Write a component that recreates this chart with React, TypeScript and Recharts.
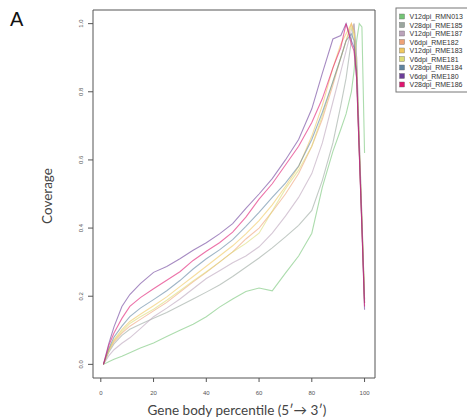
import { LineChart, Line, XAxis, YAxis, ReferenceArea } from 'recharts';

const percentile = [1, 3, 5, 8, 11, 15, 20, 25, 30, 35, 40, 45, 50, 55, 60, 65, 70, 75, 80, 84, 88, 91, 93, 95, 96, 97, 98, 99, 100];

const rmn013 = [0, 0.008, 0.015, 0.024, 0.034, 0.048, 0.063, 0.082, 0.1, 0.118, 0.14, 0.168, 0.192, 0.214, 0.224, 0.216, 0.268, 0.318, 0.385, 0.52, 0.625, 0.69, 0.735, 0.8, 0.86, 0.95, 1.0, 0.99, 0.62];
const rme185 = [0, 0.035, 0.06, 0.085, 0.103, 0.118, 0.135, 0.152, 0.172, 0.192, 0.212, 0.233, 0.258, 0.285, 0.312, 0.342, 0.374, 0.408, 0.452, 0.54, 0.65, 0.76, 0.84, 0.95, 1.0, 0.9, 0.66, 0.43, 0.19];
const rme187 = [0, 0.025, 0.043, 0.062, 0.078, 0.105, 0.14, 0.165, 0.192, 0.222, 0.252, 0.275, 0.298, 0.318, 0.345, 0.385, 0.435, 0.49, 0.56, 0.65, 0.77, 0.86, 0.92, 0.98, 1.0, 0.9, 0.66, 0.43, 0.19];
const rme182 = [0, 0.04, 0.066, 0.092, 0.112, 0.132, 0.157, 0.182, 0.212, 0.242, 0.27, 0.3, 0.33, 0.368, 0.4, 0.448, 0.5, 0.56, 0.64, 0.72, 0.82, 0.9, 0.95, 1.0, 0.98, 0.86, 0.63, 0.41, 0.18];
const rme183 = [0, 0.042, 0.072, 0.102, 0.126, 0.147, 0.172, 0.198, 0.228, 0.258, 0.288, 0.318, 0.348, 0.383, 0.422, 0.468, 0.522, 0.58, 0.67, 0.76, 0.87, 0.94, 0.97, 1.0, 0.97, 0.86, 0.63, 0.41, 0.18];
const rme181 = [0, 0.04, 0.07, 0.096, 0.12, 0.14, 0.162, 0.188, 0.216, 0.245, 0.272, 0.3, 0.33, 0.355, 0.385, 0.45, 0.515, 0.57, 0.64, 0.73, 0.83, 0.9, 0.95, 0.99, 0.97, 0.87, 0.64, 0.42, 0.19];
const rme184 = [0, 0.046, 0.08, 0.112, 0.14, 0.165, 0.19, 0.216, 0.246, 0.28, 0.31, 0.336, 0.366, 0.405, 0.446, 0.49, 0.532, 0.582, 0.66, 0.74, 0.83, 0.9, 0.95, 0.97, 0.95, 0.86, 0.63, 0.41, 0.18];
const rme180 = [0, 0.06, 0.11, 0.17, 0.205, 0.237, 0.27, 0.287, 0.31, 0.335, 0.357, 0.383, 0.413, 0.458, 0.5, 0.545, 0.6, 0.66, 0.75, 0.855, 0.955, 0.965, 1.0, 0.95, 0.93, 0.84, 0.62, 0.4, 0.16];
const rme186 = [0, 0.055, 0.092, 0.135, 0.17, 0.196, 0.222, 0.247, 0.272, 0.305, 0.332, 0.357, 0.388, 0.432, 0.485, 0.53, 0.585, 0.64, 0.71, 0.78, 0.87, 0.93, 1.0, 0.94, 0.92, 0.84, 0.62, 0.4, 0.17];

const sampleNames = ['V12dpi_RMN013', 'V28dpi_RME185', 'V12dpi_RME187', 'V6dpi_RME182', 'V12dpi_RME183', 'V6dpi_RME181', 'V28dpi_RME184', 'V6dpi_RME180', 'V28dpi_RME186'];
const sampleValues = [rmn013, rme185, rme187, rme182, rme183, rme181, rme184, rme180, rme186];
const sampleColors = ['#74c476', '#9aa69e', '#bba3bb', '#eea276', '#f0c85e', '#dcdc74', '#5f84a0', '#6b3d99', '#e0156f'];

const xTicks = [0, 20, 40, 60, 80, 100];
const yTicks = [0, 0.2, 0.4, 0.6, 0.8, 1.0];

const data = percentile.map((p, i) => {
    const row: Record<string, number> = { pct: p };
    sampleNames.forEach((n, k) => { row[n] = sampleValues[k][i]; });
    return row;
});

const X_DOMAIN = [-2.96, 103.96];
const Y_DOMAIN = [-0.04, 1.04];
const tickFont = '"Liberation Sans", Arial, sans-serif';

const XTick = ({ x, payload }: any) => (
    <text x={x} y={395} textAnchor="middle" fontSize={6} fill="#555" fontFamily={tickFont}>{payload.value}</text>
);

const YTick = ({ y, payload }: any) => (
    <text x={83} y={y} transform={`rotate(-90, 83, ${y})`} textAnchor="middle" fontSize={6} fill="#555" fontFamily={tickFont}>
        {payload.value.toFixed(1)}
    </text>
);

export default function App() {
    return (
        <div style={{ position: 'absolute', left: 0, top: 0, width: 467, height: 420, overflow: 'hidden', background: '#fff' }}>
            <LineChart width={467} height={420} data={data} margin={{ top: 10, right: 92, bottom: 0, left: 0 }}>
                <XAxis dataKey="pct" type="number" domain={X_DOMAIN} ticks={xTicks} height={42} axisLine={false}
                    tickSize={4} tickLine={{ stroke: '#555' }} tick={<XTick />} />
                <YAxis type="number" domain={Y_DOMAIN} ticks={yTicks} width={93} axisLine={false}
                    tickSize={5} tickLine={{ stroke: '#555' }} tick={<YTick />} />
                <ReferenceArea x1={X_DOMAIN[0]} x2={X_DOMAIN[1]} y1={Y_DOMAIN[0]} y2={Y_DOMAIN[1]} fill="none" stroke="#555" strokeWidth={1} />
                {sampleNames.map((n, k) => (
                    <Line key={n} dataKey={n} type="linear" stroke={sampleColors[k]} strokeOpacity={0.6} strokeWidth={1.1}
                        dot={false} isAnimationActive={false} />
                ))}
            </LineChart>
            <svg width={467} height={420} style={{ position: 'absolute', left: 0, top: 0, pointerEvents: 'none' }}>
                <text x={10} y={26} fontSize={20} fontFamily={tickFont} fill="#111">A</text>
                <text x={52} y={196} transform="rotate(-90, 52, 196)" textAnchor="middle" fontSize={13.5} fontFamily="Lato, sans-serif" fill="#444">Coverage</text>
                <text x={237} y={415} textAnchor="middle" fontSize={13.5} fontFamily="Lato, sans-serif" fill="#444">Gene body percentile (5′→ 3′)</text>
                <rect x={396} y={8} width={90} height={84} fill="#fff" stroke="#777" strokeWidth={1} />
                {sampleNames.map((n, k) => (
                    <g key={n}>
                        <rect x={399.5} y={14 + k * 8.5} width={5} height={5} fill={sampleColors[k]} stroke="#666" strokeWidth={0.4} />
                        <text x={409.5} y={19.3 + k * 8.5} fontSize={7} fontFamily={tickFont} fill="#333">{n}</text>
                    </g>
                ))}
            </svg>
        </div>
    );
}
